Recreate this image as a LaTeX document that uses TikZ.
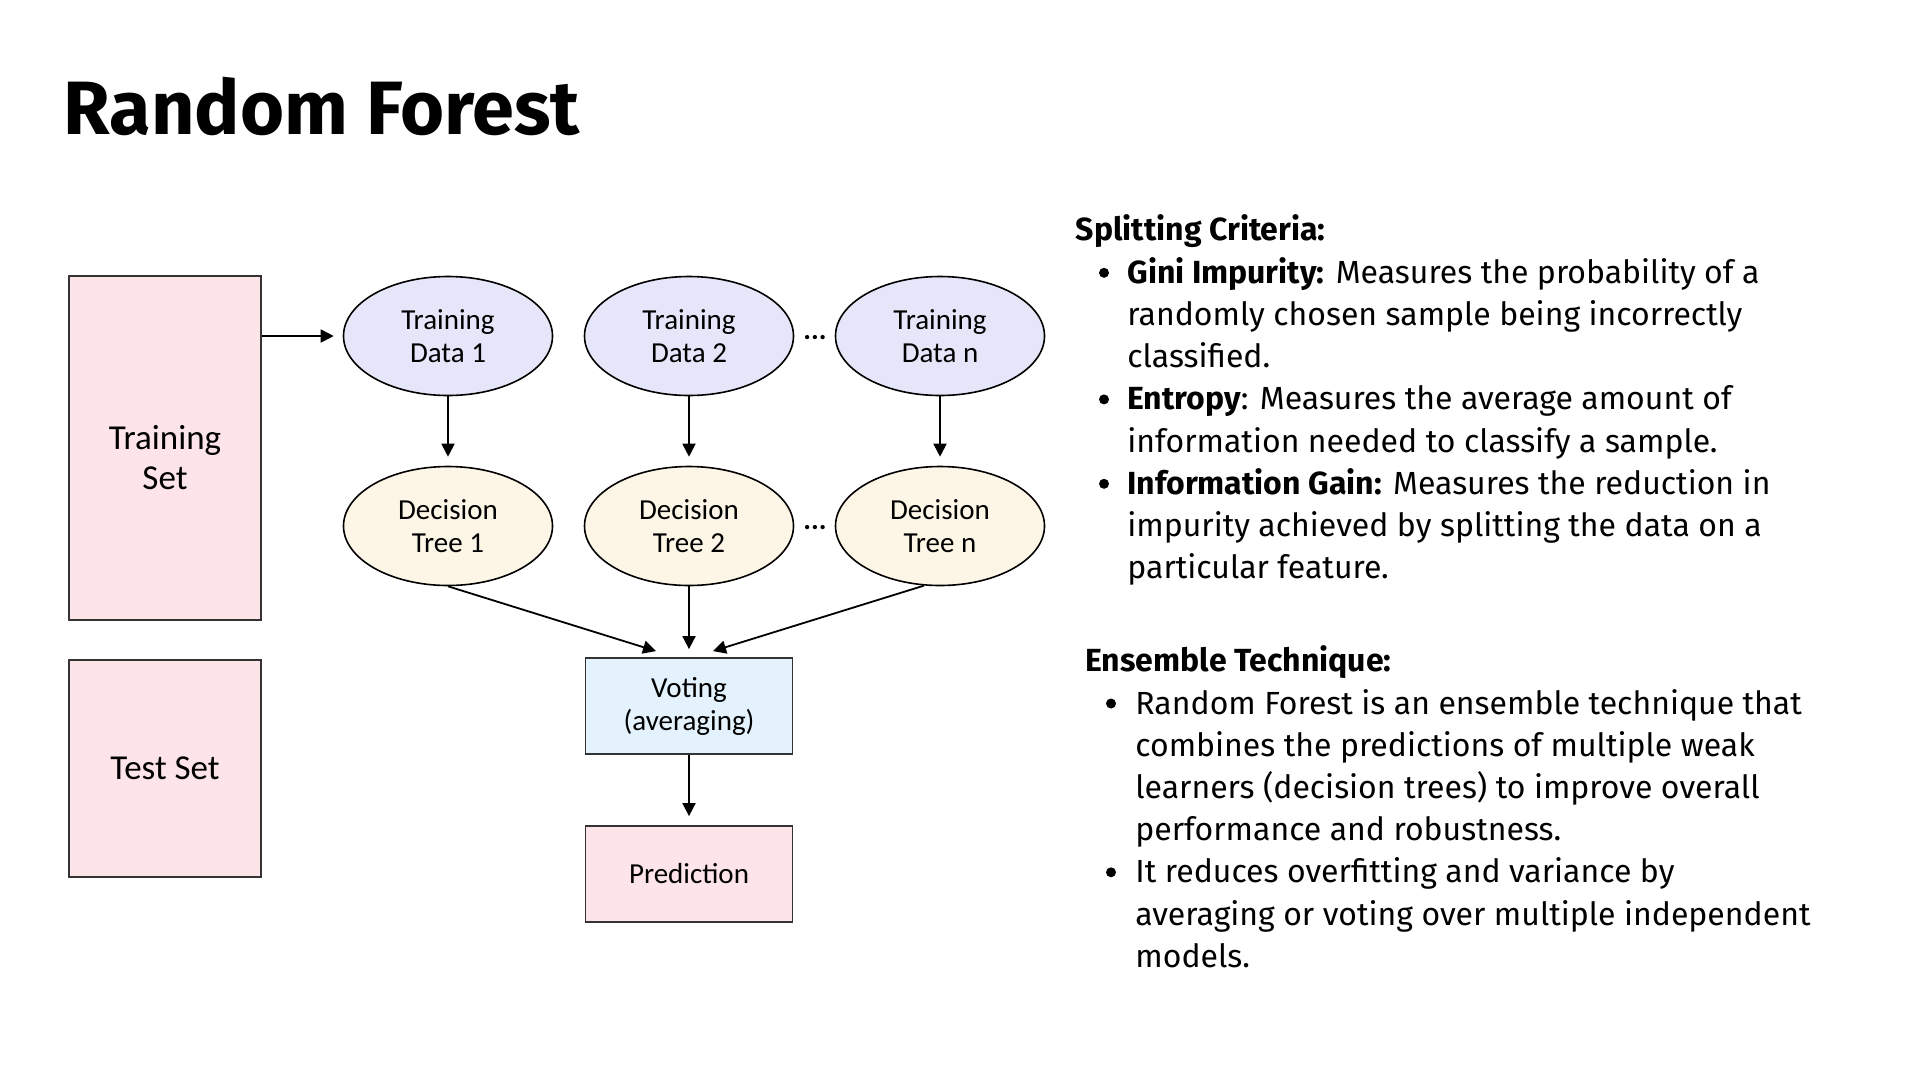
\documentclass[tikz,border=0pt]{standalone}
\usepackage{fontspec}
\setmainfont{Fira Sans}
\newfontfamily\labelfont{Carlito}
\usepackage{xcolor}
\usetikzlibrary{arrows.meta, shapes.geometric, calc}

\definecolor{setpink}{HTML}{FDE4E9}
\definecolor{datalilac}{HTML}{E6E6FA}
\definecolor{treecream}{HTML}{FDF5E6}
\definecolor{voteblue}{HTML}{E3F2FD}
\definecolor{edgegray}{HTML}{333333}

\tikzset{
  setbox/.style={rectangle, draw=edgegray, line width=0.9pt, fill=setpink,
    minimum width=96pt, align=center, font=\labelfont\fontsize{17.5}{20}\selectfont},
  setlabel/.style={anchor=base, inner sep=0pt, align=center,
    font=\labelfont\fontsize{17.5}{20}\selectfont},
  databubble/.style={ellipse, draw=black, line width=0.8pt, fill=datalilac,
    minimum width=104.5pt, minimum height=59.5pt, align=center,
    font=\labelfont\fontsize{14.5}{16.5}\selectfont},
  treebubble/.style={databubble, fill=treecream},
  votebox/.style={rectangle, draw=edgegray, line width=0.9pt, fill=voteblue,
    minimum width=103.5pt, minimum height=48pt, align=center,
    font=\labelfont\fontsize{14.5}{16.5}\selectfont},
  predbox/.style={votebox, fill=setpink},
  flow/.style={-{Triangle[length=6.5pt,width=6.5pt]}, line width=0.9pt, black},
  dots/.style={anchor=base, inner sep=0pt, font=\labelfont\fontsize{14.5}{16.5}\selectfont\bfseries},
  heading/.style={anchor=base west, inner sep=0pt, font=\fontsize{16}{21.1}\selectfont\bfseries},
  bulletdot/.style={circle, fill=black, inner sep=0pt, minimum size=5pt},
  itemtext/.style={anchor=base west, inner sep=0pt, align=left, font=\fontsize{16}{21.1}\selectfont}
}

\begin{document}
\begin{tikzpicture}[x=0.5pt, y=-0.5pt]
\fill[white] (0,0) rectangle (1909,1071);
\useasboundingbox (0,0) rectangle (1909,1071);

\node[anchor=base west, inner sep=0pt, font=\fontsize{37.8}{40}\selectfont\bfseries] (title) at (63.5,134) {Random Forest};

% data sets
\node[setbox, minimum height=172pt] (train) at (165,448) {};
\node[setlabel] (trainlabel) at (165,489.5) {Training\\Set};
\node[setbox, minimum height=108.5pt] (test) at (165,768.5) {Test Set};

% bootstrap samples and trees
\node[databubble] (td1) at (448,336) {Training\\Data 1};
\node[databubble] (td2) at (689,336) {Training\\Data 2};
\node[databubble] (tdn) at (940,336) {Training\\Data n};
\node[treebubble] (dt1) at (448,526) {Decision\\Tree 1};
\node[treebubble] (dt2) at (689,526) {Decision\\Tree 2};
\node[treebubble] (dtn) at (940,526) {Decision\\Tree n};
\node[dots] (moredata) at (815,339) {...};
\node[dots] (moretrees) at (815,529) {...};

\node[votebox] (vote) at (689,706) {Voting\\(averaging)};
\node[predbox] (pred) at (689,874) {Prediction};

\coordinate (vin1) at ([shift={(-33,-6)}]vote.north);
\coordinate (vin3) at ([shift={(24,-6)}]vote.north);

\draw[flow, shorten >=4.5pt] (train.east |- td1.west) -- (td1.west);
\draw[flow, shorten >=4.5pt] (td1) -- (dt1);
\draw[flow, shorten >=4.5pt] (td2) -- (dt2);
\draw[flow, shorten >=4.5pt] (tdn) -- (dtn);
\draw[flow] (dt1.south) -- (vin1);
\draw[flow, shorten >=4pt] (dt2) -- (vote);
\draw[flow] (dtn.255) -- (vin3);
\draw[flow, shorten >=4.5pt] (vote) -- (pred);

% splitting criteria (multi-line texts sit on their last baseline)
\node[heading] (split) at (1075.5,240.8) {Splitting Criteria:};
\node[bulletdot] (b1) at (1104,272.8) {};
\node[itemtext] (gini) at (1127,367.7) {\textbf{Gini Impurity:} Measures the probability of a\\randomly chosen sample being incorrectly\\classified.};
\node[bulletdot] (b2) at (1104,399.4) {};
\node[itemtext] (entropy) at (1127,452.1) {\textbf{Entropy}: Measures the average amount of\\information needed to classify a sample.};
\node[bulletdot] (b3) at (1104,483.8) {};
\node[itemtext] (gain) at (1127,578.7) {\textbf{Information Gain:} Measures the reduction in\\impurity achieved by splitting the data on a\\particular feature.};

% ensemble technique
\node[heading] (ensemble) at (1085,671) {Ensemble Technique:};
\node[bulletdot] (b4) at (1111,703.5) {};
\node[itemtext] (rf) at (1135,840.6) {Random Forest is an ensemble technique that\\combines the predictions of multiple weak\\learners (decision trees) to improve overall\\performance and robustness.};
\node[bulletdot] (b5) at (1111,872.3) {};
\node[itemtext] (overfit) at (1135,967.2) {It reduces overfitting and variance by\\averaging or voting over multiple independent\\models.};

\end{tikzpicture}
\end{document}
